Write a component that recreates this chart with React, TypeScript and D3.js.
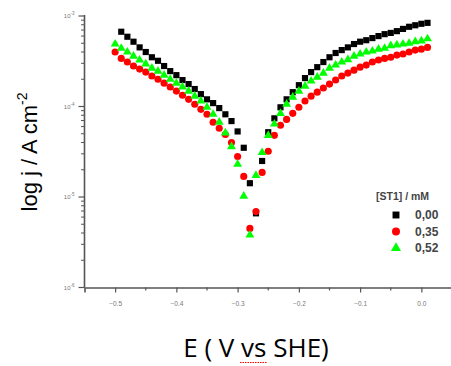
import React, { useEffect, useRef } from "react";
import * as d3 from "d3";

// potential scan (V vs SHE)
const potentials = [
  -0.5, -0.49, -0.48, -0.47, -0.46, -0.45, -0.44, -0.43, -0.42, -0.41,
  -0.4, -0.39, -0.38, -0.37, -0.36, -0.35, -0.34, -0.33, -0.32, -0.31,
  -0.3, -0.29, -0.28, -0.27, -0.26, -0.25, -0.24, -0.23, -0.22, -0.21,
  -0.2, -0.19, -0.18, -0.17, -0.16, -0.15, -0.14, -0.13, -0.12, -0.11,
  -0.1, -0.09, -0.08, -0.07, -0.06, -0.05, -0.04, -0.03, -0.02, -0.01,
  0.0, 0.01,
];

// current density (A cm-2) for each concentration
const j000 = [
  null, 6.7e-4, 5.9e-4, 5.2e-4, 4.5e-4, 4.0e-4, 3.5e-4, 3.2e-4, 2.8e-4, 2.46e-4,
  2.22e-4, 1.96e-4, 1.77e-4, 1.56e-4, 1.37e-4, 1.2e-4, 1.09e-4, 9.6e-5, 8.2e-5, 6.9e-5,
  5.3e-5, 3.5e-5, 1.42e-5, 6.6e-6, 2.5e-5, 5.2e-5, 7.4e-5, 9.8e-5, 1.2e-4, 1.44e-4,
  1.72e-4, 2.06e-4, 2.4e-4, 2.72e-4, 3.1e-4, 3.5e-4, 3.9e-4, 4.2e-4, 4.5e-4, 4.9e-4,
  5.2e-4, 5.4e-4, 5.7e-4, 6.0e-4, 6.3e-4, 6.5e-4, 6.8e-4, 7.2e-4, 7.6e-4, 7.9e-4,
  8.2e-4, 8.4e-4,
];
const j035 = [
  4.0e-4, 3.4e-4, 3.1e-4, 2.8e-4, 2.59e-4, 2.4e-4, 2.17e-4, 2.0e-4, 1.81e-4, 1.64e-4,
  1.48e-4, 1.33e-4, 1.2e-4, 1.06e-4, 9.3e-5, 8.2e-5, 6.7e-5, 5.75e-5, 4.9e-5, 4.0e-5,
  2.8e-5, 1.69e-5, 4.5e-6, 6.9e-6, 1.87e-5, 3.2e-5, 4.8e-5, 6.2e-5, 7.2e-5, 8.4e-5,
  9.8e-5, 1.15e-4, 1.3e-4, 1.44e-4, 1.6e-4, 1.77e-4, 1.96e-4, 2.17e-4, 2.34e-4, 2.52e-4,
  2.72e-4, 2.87e-4, 3.1e-4, 3.26e-4, 3.4e-4, 3.5e-4, 3.7e-4, 3.8e-4, 4.0e-4, 4.2e-4,
  4.3e-4, 4.5e-4,
];
const j052 = [
  4.9e-4, 4.4e-4, 4.0e-4, 3.6e-4, 3.26e-4, 2.95e-4, 2.65e-4, 2.46e-4, 2.22e-4, 2.0e-4,
  1.81e-4, 1.64e-4, 1.48e-4, 1.3e-4, 1.15e-4, 9.8e-5, 8.2e-5, 6.7e-5, 5.1e-5, 3.6e-5,
  2.3e-5, 1.02e-5, 3.8e-6, 1.73e-5, 3.1e-5, 4.8e-5, 6.4e-5, 8.4e-5, 1.06e-4, 1.27e-4,
  1.48e-4, 1.68e-4, 1.91e-4, 2.11e-4, 2.34e-4, 2.65e-4, 2.87e-4, 3.1e-4, 3.3e-4, 3.6e-4,
  3.8e-4, 4.0e-4, 4.1e-4, 4.3e-4, 4.4e-4, 4.7e-4, 4.8e-4, 4.9e-4, 5.0e-4, 5.2e-4,
  5.3e-4, 5.6e-4,
];

const seriesNames = ["0,00", "0,35", "0,52"];
const seriesColors = ["#000000", "#ff0000", "#00ff00"];
const xTicks = [-0.5, -0.4, -0.3, -0.2, -0.1, 0.0];
const yTicks = [1e-6, 1e-5, 1e-4, 1e-3];
const yTickExp = ["-6", "-5", "-4", "-3"];

const W = 451;
const H = 366;

const App = () => {
  const svgRef = useRef<SVGSVGElement>(null);

  useEffect(() => {
    const svg = d3.select(svgRef.current);
    svg.selectAll("*").remove();

    const xScale = d3.scaleLinear().domain([-0.55, 0.05]).range([84.5, 452]);
    const yScale = d3.scaleLog().domain([1e-6, 1e-3]).range([287.5, 16]);
    const axisColor = "#555";

    // x axis
    const xAxis = d3.axisBottom(xScale)
      .tickValues(xTicks)
      .tickSize(5)
      .tickFormat((d) => d3.format(".1f")(d as number));
    const gx = svg.append("g")
      .attr("transform", `translate(0,${yScale(1e-6)})`)
      .call(xAxis);
    gx.select(".domain").attr("stroke", axisColor).attr("stroke-width", 1.6);
    gx.selectAll(".tick line").attr("stroke", axisColor).attr("stroke-width", 1.2);
    gx.selectAll(".tick text")
      .attr("fill", "#777")
      .attr("font-family", "Arial, 'Liberation Sans', sans-serif")
      .attr("font-size", 6.5)
      .attr("dy", "1.6em");
    const xMinor = [-0.45, -0.35, -0.25, -0.15, -0.05];
    gx.selectAll(".minor")
      .data(xMinor)
      .join("line")
      .attr("x1", (d) => xScale(d))
      .attr("x2", (d) => xScale(d))
      .attr("y1", 0)
      .attr("y2", 3)
      .attr("stroke", axisColor)
      .attr("stroke-width", 1.2);

    // y axis
    const yMinor: number[] = [];
    [1e-6, 1e-5, 1e-4].forEach((dec) => {
      for (let k = 2; k <= 9; k++) yMinor.push(dec * k);
    });
    const gy = svg.append("g").attr("transform", `translate(${xScale(-0.55)},0)`);
    gy.append("line")
      .attr("y1", yScale(1e-3) - 1)
      .attr("y2", yScale(1e-6))
      .attr("stroke", axisColor)
      .attr("stroke-width", 1.6);
    gy.selectAll(".ymaj")
      .data(yTicks)
      .join("line")
      .attr("x1", -6)
      .attr("x2", 0)
      .attr("y1", (d) => yScale(d))
      .attr("y2", (d) => yScale(d))
      .attr("stroke", axisColor)
      .attr("stroke-width", 1.2);
    gy.selectAll(".ymin")
      .data(yMinor)
      .join("line")
      .attr("x1", -3.5)
      .attr("x2", 0)
      .attr("y1", (d) => yScale(d))
      .attr("y2", (d) => yScale(d))
      .attr("stroke", axisColor)
      .attr("stroke-width", 1);
    const yl = gy.selectAll(".ylab")
      .data(yTicks)
      .join("text")
      .attr("x", -10)
      .attr("y", (d) => yScale(d) + 2)
      .attr("text-anchor", "end")
      .attr("fill", "#777")
      .attr("font-family", "Arial, 'Liberation Sans', sans-serif")
      .attr("font-size", 6);
    yl.append("tspan").text("10");
    yl.append("tspan")
      .attr("dy", -3)
      .attr("font-size", 4.5)
      .text((d, i) => yTickExp[i]);

    // data series
    const jSeries = [j000, j035, j052];
    const symbols = [d3.symbolSquare, d3.symbolCircle, d3.symbolTriangle];
    const sizes = [38, 40, 34];
    jSeries.forEach((vals, s) => {
      const pts = potentials
        .map((e, i) => ({ e, j: vals[i] }))
        .filter((p) => p.j != null);
      svg.append("g")
        .selectAll("path")
        .data(pts)
        .join("path")
        .attr("d", d3.symbol().type(symbols[s]).size(sizes[s])())
        .attr("transform", (d) => `translate(${xScale(d.e)},${yScale(d.j as number)})`)
        .attr("fill", seriesColors[s]);
    });

    // legend
    const lg = svg.append("g").attr("transform", "translate(376,200)");
    lg.append("text")
      .attr("x", 0)
      .attr("y", 0)
      .attr("fill", "#444")
      .attr("font-family", "Arial, 'Liberation Sans', sans-serif")
      .attr("font-weight", "bold")
      .attr("font-size", 10.5)
      .text("[ST1] / mM");
    seriesNames.forEach((name, s) => {
      const cy = 15 + s * 16.5;
      lg.append("path")
        .attr("d", d3.symbol().type(symbols[s]).size(sizes[s] + 10)())
        .attr("transform", `translate(20,${cy})`)
        .attr("fill", seriesColors[s]);
      lg.append("text")
        .attr("x", 39)
        .attr("y", cy + 4)
        .attr("fill", "#444")
        .attr("font-family", "Arial, 'Liberation Sans', sans-serif")
        .attr("font-weight", "bold")
        .attr("font-size", 12)
        .text(name);
    });

    // axis titles
    const yt = svg.append("text")
      .attr("transform", "translate(37,152) rotate(-90)")
      .attr("text-anchor", "middle")
      .attr("fill", "#000")
      .attr("font-family", "Arial, 'Liberation Sans', sans-serif")
      .attr("font-size", 22);
    yt.append("tspan").text("log j / A cm");
    yt.append("tspan").attr("dy", -10).attr("font-size", 14).text("-2");

    svg.append("text")
      .attr("x", 256)
      .attr("y", 357)
      .attr("text-anchor", "middle")
      .attr("fill", "#000")
      .attr("font-family", "'Open Sans', 'Noto Sans', sans-serif")
      .attr("font-size", 26)
      .text("E ( V vs SHE)");
    svg.append("line")
      .attr("x1", 240)
      .attr("x2", 267)
      .attr("y1", 362.5)
      .attr("y2", 362.5)
      .attr("stroke", "#ff0000")
      .attr("stroke-width", 1)
      .attr("stroke-dasharray", "1.5,1");
  }, []);

  return (
    <svg
      ref={svgRef}
      width={W}
      height={H}
      style={{ position: "absolute", left: 0, top: 0, background: "#fff" }}
    />
  );
};

export default App;
